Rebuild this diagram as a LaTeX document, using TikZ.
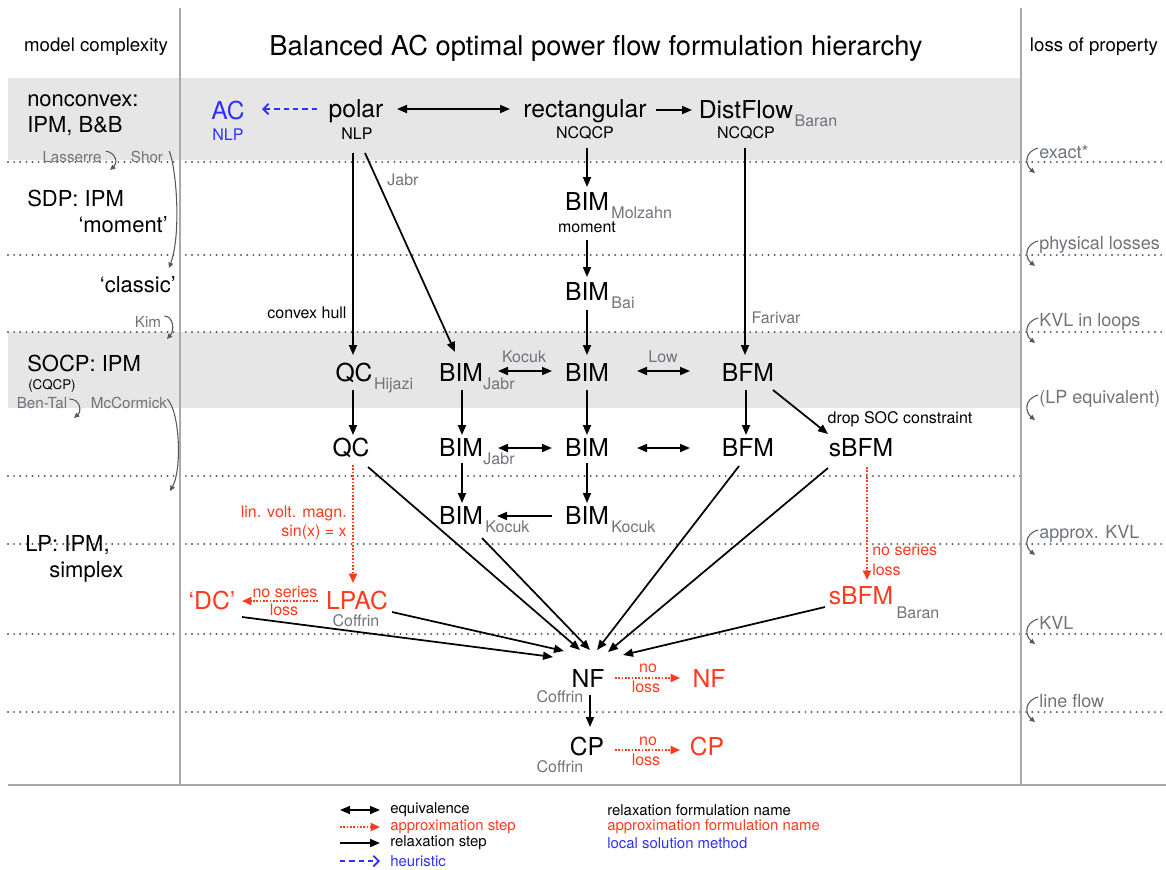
\documentclass[tikz,border=0pt]{standalone}
\usepackage{fontspec}
\setmainfont{TeX Gyre Heros}
\usetikzlibrary{arrows.meta,calc}
\definecolor{rd}{RGB}{255,58,30}
\definecolor{bl}{RGB}{48,48,255}
\definecolor{sg}{RGB}{112,116,122}
\definecolor{dg}{RGB}{85,88,92}
\definecolor{bandc}{RGB}{230,230,230}
\definecolor{sepc}{RGB}{168,170,170}
\newcommand\myfs[1]{\fontsize{#1}{#1}\selectfont}
\begin{document}
\begin{tikzpicture}[x=0.75pt,y=-0.75pt,
  fm/.style={font=\myfs{18.5}, inner sep=0pt, text height=13.3pt, text depth=0pt},
  sub/.style={font=\myfs{12}, text=sg, inner sep=0pt, anchor=base west},
  lbl/.style={font=\myfs{12}, inner sep=0pt},
  glbl/.style={lbl, text=sg},
  lgl/.style={font=\myfs{11.4}, text=sg, inner sep=0pt},
  hd/.style={font=\myfs{14}, inner sep=0pt},
  lc/.style={font=\myfs{16.5}, inner sep=0pt},
  rc/.style={font=\myfs{13.5}, text=sg, inner sep=0pt, anchor=west},
  lg/.style={font=\myfs{11.2}, inner sep=0pt, anchor=west},
  rel/.style={line width=1.3pt, -{Triangle[length=7.5pt,width=6pt]}},
  eqv/.style={line width=1.3pt, {Triangle[length=7.5pt,width=6pt]}-{Triangle[length=7.5pt,width=6pt]}},
  apx/.style={rd, line width=1.3pt, dash pattern=on 1.2pt off 1.3pt, -{Triangle[length=7pt,width=6pt]}},
  heu/.style={bl, line width=1.3pt, dash pattern=on 4pt off 3pt, -{Straight Barb[length=4pt,width=8pt,line width=1.4pt]}},
  cv/.style={dg, line width=0.8pt, -{Triangle[length=4pt,width=3.6pt]}},
  dots/.style={dg, line width=1.6pt, line cap=round, dash pattern=on 0pt off 4.6pt}
]
\useasboundingbox (0,0) rectangle (1166,869);
% bands
\fill[bandc] (8,78) rectangle (1021,160);
\fill[bandc] (8,332) rectangle (1021,408);
% dotted level lines
\foreach \yy in {162,255,332,544,634,712} \draw[dots] (8,\yy) -- (1166,\yy);
\draw[dots] (8,476) -- (1021,476);
% separators
\draw[sepc, line width=1.9pt] (180,8) -- (180,785);
\draw[sepc, line width=1.9pt] (1021,8) -- (1021,785);
\draw[sepc, line width=1.9pt] (8,785) -- (1166,785);

% headers
\node[hd] (hmc) at (96,47) {model complexity};
\node[font=\myfs{20.5}, inner sep=0pt] (title) at (596,48) {Balanced AC optimal power flow formulation hierarchy};
\node[hd] (hlp) at (1094,47) {loss of property};

% left column
\node[lc, anchor=west] (l1) at (27,101) {nonconvex:};
\node[lc, anchor=west] (l2) at (27,126) {IPM, B\&B};
\node[lc, anchor=west] (l3) at (27,198) {SDP: IPM};
\node[lc, anchor=east] (l4) at (168,225) {‘moment’};
\node[lc, anchor=east] (l5) at (176,285) {‘classic’};
\node[lc, anchor=west] (l6) at (27,363) {SOCP: IPM};
\node[font=\myfs{10}, inner sep=0pt, anchor=west] (l7) at (28,386) {(CQCP)};
\node[lc, anchor=west] (l8) at (25,545) {LP: IPM,};
\node[lc, anchor=west] (l9) at (49,572) {simplex};

\node[lgl] (las) at (72,157) {Lasserre};
\node[lgl] (shor) at (147,157) {Shor};
\node[lgl] (kim) at (148,322) {Kim};
\node[lgl] (bental) at (42,403) {Ben-Tal};
\node[lgl] (mcc) at (129,403) {McCormick};
\coordinate (lasE) at (110,170);
\coordinate (shorE) at (169,268);
\coordinate (kimE) at (167,339);
\coordinate (bentalE) at (74,418);
\coordinate (mccE) at (170,491);
\draw[cv] ($(las.east)+(4,-6)$) .. controls (116,153) and (118,163) .. (lasE);
\draw[cv] ($(shor.east)+(6,-6)$) .. controls (177,172) and (181,235) .. (shorE);
\draw[cv] ($(kim.east)+(3,-6)$) .. controls (173,316) and (175,330) .. (kimE);
\draw[cv] ($(bental.east)+(2,-4)$) .. controls (80,399) and (82,411) .. (bentalE);
\draw[cv] ($(mcc.east)+(0,-4)$) .. controls (180,412) and (182,470) .. (mccE);

% right column
\foreach \n/\yy/\t in {r1/152/{exact*}, r2/245/{physical losses}, r3/322/{KVL in loops}, r4/399/{(LP equivalent)}, r5/534/{approx. KVL}, r6/623/{KVL}, r7/701/{line flow}}{
  \node[rc] (\n) at (1039,\yy) {\t};
  \coordinate (\n-e) at (1035,\yy+21);
  \draw[cv] ($(\n.west)+(-1,-4)$) .. controls (1024,\yy) and (1025,\yy+13) .. (\n-e);
}

% main formulation nodes
\node[fm, text=bl] (ac) at (228,111) {AC};
\node[fm] (polar) at (356,109) {polar};
\node[fm] (rect) at (585,109) {rectangular};
\node[fm] (dist) at (746,110) {DistFlow};
\node[fm] (bimM) at (587,202) {BIM};
\node[fm] (bimB) at (587,292) {BIM};
\node[fm] (qch) at (354,373) {QC};
\node[fm] (bimJ) at (461,373) {BIM};
\node[fm] (bim) at (587,373) {BIM};
\node[fm] (bfm) at (748,373) {BFM};
\node[fm] (qc) at (351,448) {QC};
\node[fm] (bimJ2) at (461,448) {BIM};
\node[fm] (bim2) at (587,448) {BIM};
\node[fm] (bfm2) at (748,448) {BFM};
\node[fm] (sbfm) at (861,448) {sBFM};
\node[fm] (bimK1) at (461,516) {BIM};
\node[fm] (bimK2) at (587,516) {BIM};
\node[fm, text=rd] (lpac) at (357,601) {LPAC};
\node[fm, text=rd] (dc) at (212,601) {‘DC’};
\node[fm, text=rd] (sbfmr) at (861,596) {sBFM};
\node[fm] (nf) at (588,679) {NF};
\node[fm] (cp) at (587,747) {CP};
\node[fm, text=rd] (nfr) at (709,679) {NF};
\node[fm, text=rd] (cpr) at (707,747) {CP};

% subscripts
\node[sub] (dist-s) at ($(dist.base east)+(1,8)$) {Baran};
\node[sub] (bimM-s) at ($(bimM.base east)+(2,8)$) {Molzahn};
\node[sub] (bimB-s) at ($(bimB.base east)+(2,8)$) {Bai};
\node[sub] (qch-s) at ($(qch.base east)+(1,8)$) {Hijazi};
\node[sub] (bimJ-s) at ($(bimJ.base east)+(0,8)$) {Jabr};
\node[sub] (bimJ2-s) at ($(bimJ2.base east)+(0,8)$) {Jabr};
\node[sub] (bimK1-s) at ($(bimK1.base east)+(2,8)$) {Kocuk};
\node[sub] (bimK2-s) at ($(bimK2.base east)+(2,8)$) {Kocuk};

% texts below names
\node[lbl, anchor=base, text=bl] (ac-t) at ($(ac.base)+(0,21)$) {NLP};
\node[lbl, anchor=base] (polar-t) at ($(polar.base)+(1,22)$) {NLP};
\node[lbl, anchor=base] (rect-t) at ($(rect.base)+(0,21)$) {NCQCP};
\node[lbl, anchor=base] (dist-t) at ($(dist.base)+(0,20)$) {NCQCP};
\node[lbl, anchor=base] (bimM-t) at ($(bimM.base)+(0,22)$) {moment};
\node[glbl] (cof1) at (356,621) {Coffrin};
\node[glbl] (cof2) at (560,697) {Coffrin};
\node[glbl] (cof3) at (560,767) {Coffrin};
\node[glbl] (bar2) at (918,613) {Baran};

% connector labels
\node[glbl] (jabr-l) at (403,180) {Jabr};
\node[lbl] (chull) at (307,313) {convex hull};
\node[glbl] (far) at (776,318) {Farivar};
\node[glbl] (koc-l) at (524,357) {Kocuk};
\node[glbl] (low-l) at (663,357) {Low};
\node[lbl] (drop) at (900,419) {drop SOC constraint};
\node[lbl, text=rd, anchor=east] (lin1) at (347,513) {lin. volt. magn.};
\node[lbl, text=rd, anchor=east] (lin2) at (347,532) {sin(x) = x};
\node[lbl, text=rd] (ns1) at (285,592) {no series};
\node[lbl, text=rd] (ns2) at (284,610) {loss};
\node[lbl, text=rd, anchor=west] (ns3) at (872,550) {no series};
\node[lbl, text=rd, anchor=west] (ns4) at (872,570) {loss};
\node[lbl, text=rd] (nl1) at (648,668) {no};
\node[lbl, text=rd] (nl2) at (646,687) {loss};
\node[lbl, text=rd] (nl3) at (648,741) {no};
\node[lbl, text=rd] (nl4) at (646,760) {loss};

% connectors
\draw[heu] ($(polar)+(-39,0)$) -- ($(ac)+(34,-2)$);
\draw[eqv] ($(polar)+(41,0)$) -- ($(rect)+(-75,0)$);
\draw[rel] ($(rect)+(71,1)$) -- ($(dist)+(-54,0)$);
\draw[rel] ($(rect)+(2,39)$) -- ($(bimM)+(0,-15)$);
\draw[rel] ($(bimM)+(0,38)$) -- ($(bimB)+(0,-15)$);
\draw[rel] ($(bimB)+(0,18)$) -- ($(bim)+(0,-18)$);
\draw[rel] ($(polar)+(-3,44)$) -- ($(qch)+(-1,-18)$);
\draw[rel] ($(polar)+(9,44)$) -- ($(bimJ)+(-6,-21)$);
\draw[rel] ($(dist)+(-1,38)$) -- ($(bfm)+(-3,-18)$);
\draw[eqv] ($(bimJ)+(37,-2)$) -- ($(bim)+(-35,-2)$);
\draw[eqv] ($(bim)+(50,-2)$) -- ($(bfm)+(-58,-2)$);
\draw[rel] ($(qch)+(-1,17)$) -- ($(qc)+(2,-13)$);
\draw[rel] ($(bimJ)+(1,17)$) -- ($(bimJ2)+(1,-13)$);
\draw[rel] ($(bim)+(0,17)$) -- ($(bim2)+(0,-13)$);
\draw[rel] ($(bfm)+(-2,17)$) -- ($(bfm2)+(-2,-13)$);
\draw[rel] ($(bfm)+(25,17)$) -- ($(sbfm)+(-33,-14)$);
\draw[eqv] ($(bimJ2)+(37,0)$) -- ($(bim2)+(-35,0)$);
\draw[eqv] ($(bim2)+(50,0)$) -- ($(bfm2)+(-58,0)$);
\draw[rel] ($(bimJ2)+(1,15)$) -- ($(bimK1)+(1,-13)$);
\draw[rel] ($(bim2)+(0,15)$) -- ($(bimK2)+(0,-13)$);
\draw[rel] ($(bimK2)+(-35,0)$) -- ($(bimK1)+(36,0)$);
\draw[apx] ($(qc)+(2,17)$) -- ($(lpac)+(-4,-18)$);
\draw[apx] ($(lpac)+(-39,0)$) -- ($(dc)+(30,0)$);
\draw[apx] ($(sbfm)+(6,19)$) -- ($(sbfmr)+(6,-16)$);
\draw[rel] ($(dc)+(30,16)$) -- ($(nf)+(-35,-22)$);
\draw[rel] ($(lpac)+(35,11)$) -- ($(nf)+(-24,-28)$);
\draw[rel] ($(qc)+(17,19)$) -- ($(nf)+(-8,-29)$);
\draw[rel] ($(bimK1)+(21,22)$) -- ($(nf)+(2,-29)$);
\draw[rel] ($(bfm2)+(-9,18)$) -- ($(nf)+(9,-29)$);
\draw[rel] ($(sbfm)+(-33,20)$) -- ($(nf)+(20,-27)$);
\draw[rel] ($(sbfmr)+(-36,11)$) -- ($(nf)+(35,-24)$);
\draw[rel] ($(nf)+(2,16)$) -- ($(cp)+(3,-20)$);
\draw[apx] ($(nf)+(27,-1)$) -- ($(nfr)+(-29,-1)$);
\draw[apx] ($(cp)+(28,3)$) -- ($(cpr)+(-27,3)$);

% legend
\coordinate (k1a) at (340,810); \coordinate (k1b) at (380,810);
\coordinate (k2a) at (340,827); \coordinate (k2b) at (380,827);
\coordinate (k3a) at (340,843); \coordinate (k3b) at (380,843);
\coordinate (k4a) at (340,861); \coordinate (k4b) at (380,861);
\draw[eqv] (k1a) -- (k1b);
\draw[apx] (k2a) -- (k2b);
\draw[rel] (k3a) -- (k3b);
\draw[heu] (k4a) -- (k4b);
\node[lg] (lg1) at (390,810) {equivalence};
\node[lg, text=rd] (lg2) at (390,827) {approximation step};
\node[lg] (lg3) at (390,843) {relaxation step};
\node[lg, text=bl] (lg4) at (390,861) {heuristic};
\node[lg] (lg5) at (607,810) {relaxation formulation name};
\node[lg, text=rd] (lg6) at (607,827) {approximation formulation name};
\node[lg, text=bl] (lg7) at (607,843) {local solution method};
\end{tikzpicture}
\end{document}
